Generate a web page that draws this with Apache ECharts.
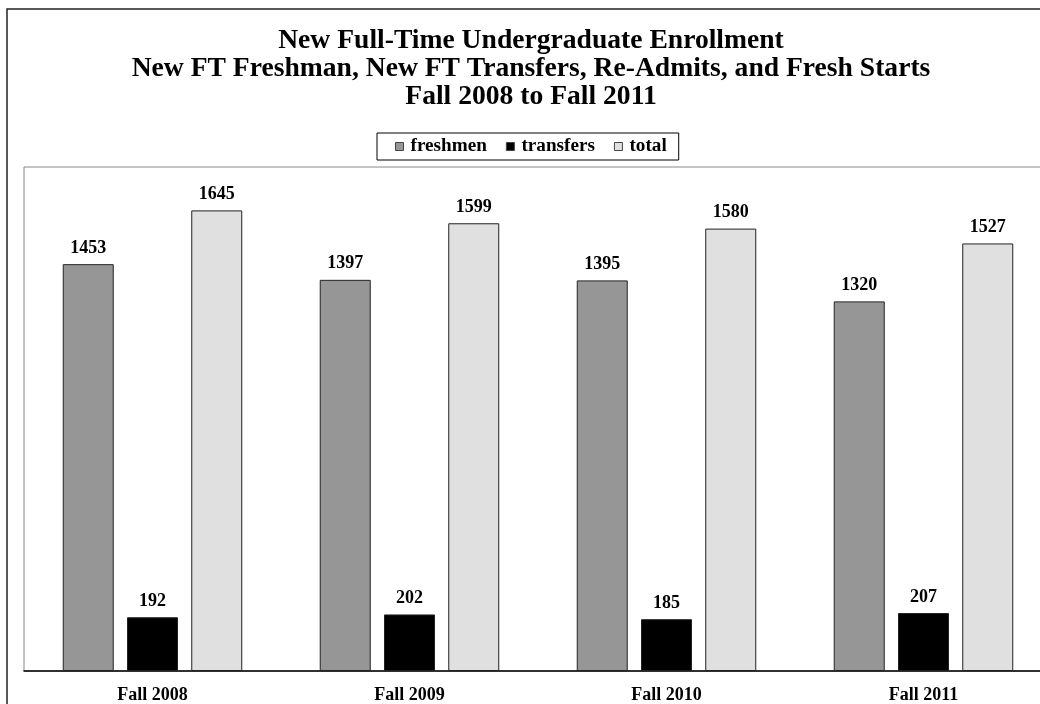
<!DOCTYPE html>
<html><head><meta charset="utf-8">
<script src="https://cdn.jsdelivr.net/npm/echarts@6/dist/echarts.min.js"></script>
<style>html,body{margin:0;padding:0;background:#fff;overflow:hidden}#c{width:1052px;height:704px}</style>
</head><body><div id="c"></div>
<script>
const categories = ['Fall 2008', 'Fall 2009', 'Fall 2010', 'Fall 2011'];
const freshmen = [1453, 1397, 1395, 1320];
const transfers = [192, 202, 185, 207];
const total = [1645, 1599, 1580, 1527];
const titleText = 'New Full-Time Undergraduate Enrollment\nNew FT Freshman, New FT Transfers, Re-Admits, and Fresh Starts\nFall 2008 to Fall 2011';

const font = '"Liberation Serif", "Times New Roman", serif';
const chart = echarts.init(document.getElementById('c'));
const label = {show: true, position: 'top', distance: 7, fontFamily: font, fontWeight: 'bold', fontSize: 18, color: '#000'};
function bar(name, data, color) {
  return {name, type: 'bar', data, barWidth: 51, barGap: '26%',
    itemStyle: {color, borderColor: '#222', borderWidth: 1}, label};
}
chart.setOption({
  animation: false,
  title: {text: titleText, left: 526, textAlign: 'center', top: 22,
    textStyle: {fontFamily: font, fontWeight: 'bold', fontSize: 27.6, lineHeight: 28, color: '#000'}},
  legend: {top: 133, left: 377, itemWidth: 8, itemHeight: 8, itemGap: 19,
    borderColor: '#000', borderWidth: 1, padding: [4, 12, 4, 18],
    textStyle: {fontFamily: font, fontWeight: 'bold', fontSize: 19.2, color: '#000', padding: [2, 0, 0, 2]},
    data: [
      {name: 'freshmen', icon: 'rect', itemStyle: {borderColor: '#444', borderWidth: 1}},
      {name: 'transfers', icon: 'rect', itemStyle: {borderColor: '#444', borderWidth: 1}},
      {name: 'total', icon: 'rect', itemStyle: {borderColor: '#444', borderWidth: 1}}
    ]},
  graphic: [{type: 'rect', shape: {x: 7, y: 9, width: 1200, height: 900}, silent: true,
    style: {fill: null, stroke: '#222', lineWidth: 1.5}, z: -1}],
  grid: {left: 24, top: 167, right: 0, bottom: 33, show: true, borderColor: '#888', borderWidth: 1, containLabel: false},
  xAxis: {type: 'category', data: categories,
    axisLine: {lineStyle: {color: '#000', width: 1.5}}, axisTick: {show: false},
    axisLabel: {fontFamily: font, fontWeight: 'bold', fontSize: 18, color: '#000', margin: 15}},
  yAxis: {type: 'value', min: 0, max: 1800, show: false, splitLine: {show: false}},
  series: [bar('freshmen', freshmen, '#969696'), bar('transfers', transfers, '#000'), bar('total', total, '#e0e0e0')]
});
</script></body></html>
